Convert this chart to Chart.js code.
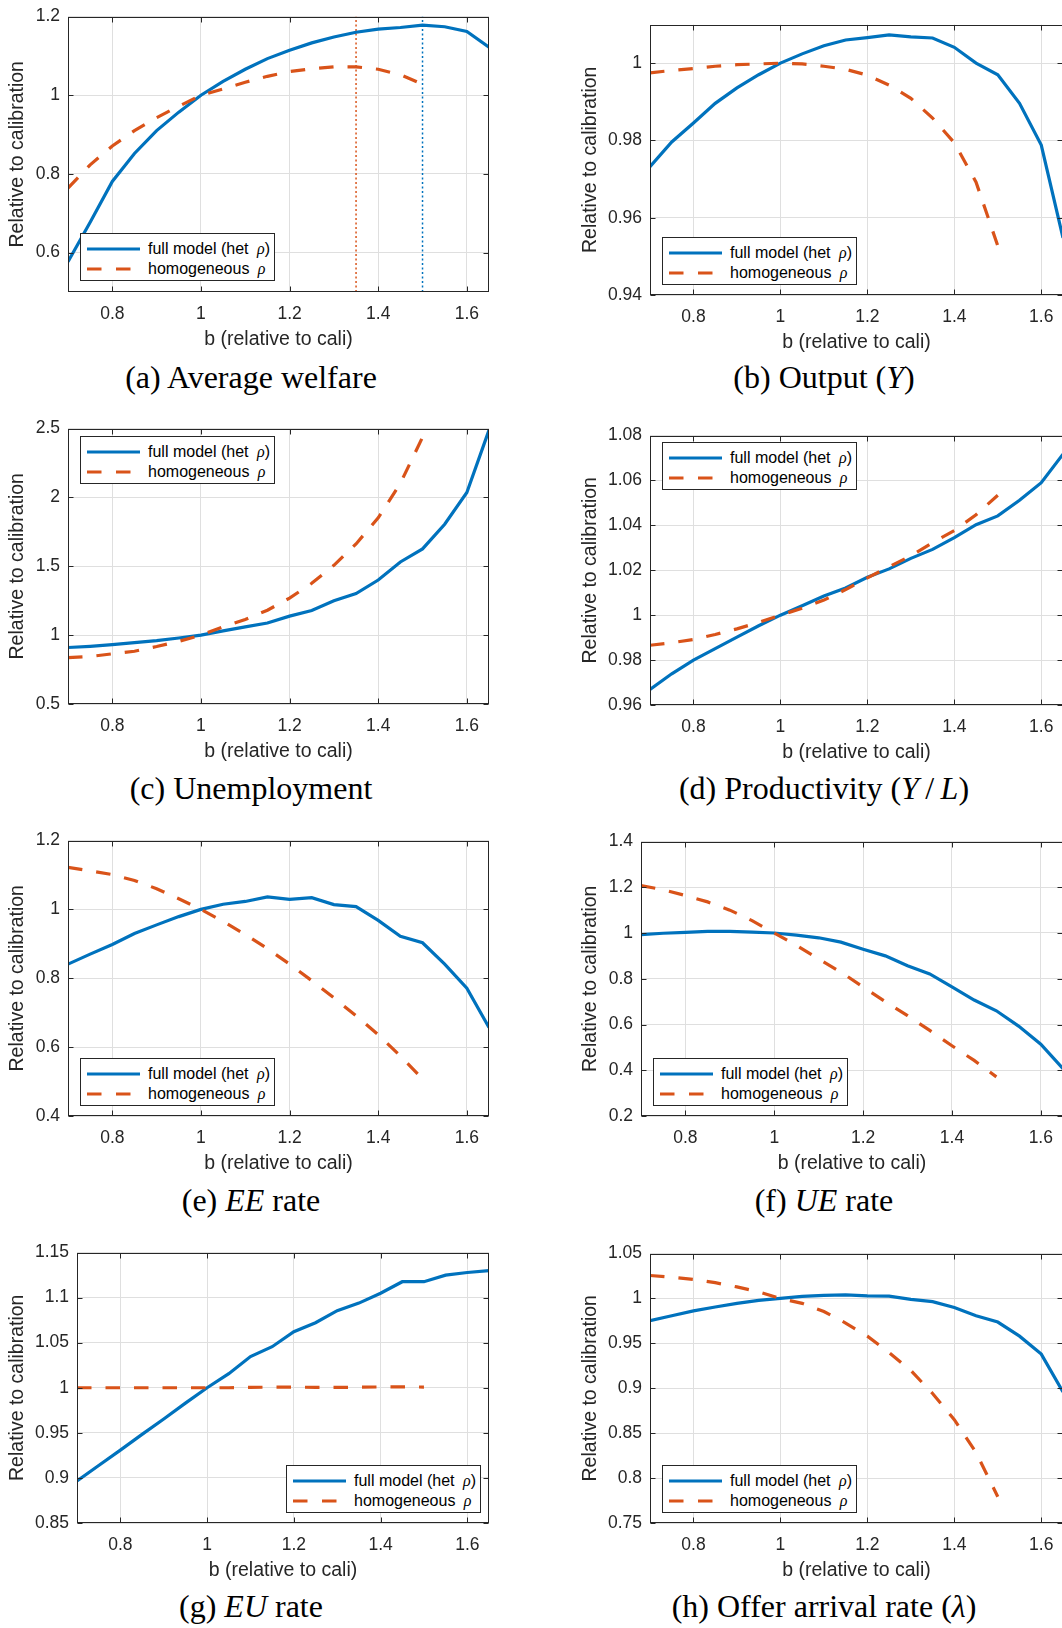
<!DOCTYPE html>
<html>
<head>
<meta charset="utf-8">
<script src="https://cdn.jsdelivr.net/npm/chart.js@4.4.0/dist/chart.umd.min.js"></script>
<style>
html, body { margin: 0; padding: 0; background: #fff; overflow: hidden; }
body { width: 1062px; height: 1628px; position: relative; }
canvas { position: absolute; }
.cap { position: absolute; width: 500px; text-align: center; font-family: "Liberation Serif", serif; font-size: 32px; line-height: 32px; color: #000; white-space: nowrap; }
.leg { position: absolute; width: 193px; height: 46px; border: 1px solid #262626; background: #fff; font-family: "Liberation Sans", Arial, sans-serif; font-size: 16px; color: #000; }
.leg .row { position: absolute; left: 67px; white-space: nowrap; line-height: 20px; }
.leg svg { position: absolute; left: 6px; }
.rho { font-family: "Liberation Serif", serif; font-style: italic; margin-left: 4px; }
</style>
</head>
<body>
<script>
// b grid (relative to calibration)
const bFull  = [0.7, 0.75, 0.8, 0.85, 0.9, 0.95, 1.0, 1.05, 1.1, 1.15, 1.2, 1.25, 1.3, 1.35, 1.4, 1.45, 1.5, 1.55, 1.6, 1.65];
const bHomog = [0.7, 0.75, 0.8, 0.85, 0.9, 0.95, 1.0, 1.05, 1.1, 1.15, 1.2, 1.25, 1.3, 1.35, 1.4, 1.45, 1.5];
const bTicks = [0.8, 1, 1.2, 1.4, 1.6];

// (a) average welfare
const welfareFull  = [0.577, 0.677, 0.781, 0.852, 0.910, 0.957, 1.000, 1.035, 1.066, 1.093, 1.114, 1.133, 1.148, 1.160, 1.168, 1.172, 1.178, 1.174, 1.162, 1.122];
const welfareHomog = [0.764, 0.823, 0.871, 0.910, 0.943, 0.972, 1.000, 1.016, 1.033, 1.048, 1.060, 1.067, 1.072, 1.072, 1.066, 1.052, 1.028];
const welfarePeaks = [1.35, 1.5]; // homogeneous, full model
const welfareTicks = [0.6, 0.8, 1, 1.2];

// (b) output
const outputFull  = [0.9732, 0.9796, 0.9845, 0.9896, 0.9936, 0.9970, 1.0, 1.0024, 1.0045, 1.0060, 1.0066, 1.0073, 1.0068, 1.0065, 1.0041, 1.0, 0.9970, 0.9896, 0.9788, 0.9548];
const outputHomog = [0.9975, 0.9981, 0.9986, 0.9992, 0.9996, 0.9998, 1.0, 0.9998, 0.9992, 0.9984, 0.9969, 0.9943, 0.9909, 0.9858, 0.9794, 0.9692, 0.9527];
const outputTicks = [0.94, 0.96, 0.98, 1];

// (c) unemployment
const unempFull  = [0.910, 0.919, 0.931, 0.945, 0.960, 0.979, 1.0, 1.031, 1.060, 1.088, 1.138, 1.179, 1.250, 1.302, 1.400, 1.531, 1.626, 1.805, 2.036, 2.488];
const unempHomog = [0.836, 0.845, 0.864, 0.883, 0.917, 0.955, 1.0, 1.060, 1.114, 1.181, 1.269, 1.376, 1.507, 1.662, 1.852, 2.102, 2.436];
const unempTicks = [0.5, 1, 1.5, 2, 2.5];

// (d) productivity
const prodFull  = [0.9669, 0.9739, 0.9800, 0.9851, 0.9902, 0.9953, 1.0, 1.0042, 1.0085, 1.0121, 1.0169, 1.0206, 1.0253, 1.0293, 1.0345, 1.0403, 1.0442, 1.0512, 1.0590, 1.0717];
const prodHomog = [0.9866, 0.9877, 0.9892, 0.9914, 0.9939, 0.9968, 1.0, 1.0031, 1.0067, 1.0114, 1.0166, 1.0216, 1.0264, 1.0323, 1.0377, 1.0447, 1.0534];
const prodTicks = [0.96, 0.98, 1, 1.02, 1.04, 1.06, 1.08];

// (e) EE rate
const eeFull  = [0.841, 0.870, 0.898, 0.930, 0.955, 0.979, 1.0, 1.015, 1.023, 1.036, 1.029, 1.034, 1.014, 1.008, 0.968, 0.922, 0.903, 0.841, 0.771, 0.657];
const eeHomog = [1.122, 1.112, 1.101, 1.084, 1.060, 1.031, 1.0, 0.965, 0.927, 0.886, 0.841, 0.793, 0.743, 0.691, 0.636, 0.574, 0.508];
const eeTicks = [0.4, 0.6, 0.8, 1, 1.2];

// (f) UE rate
const ueFull  = [0.993, 0.999, 1.003, 1.007, 1.007, 1.004, 1.0, 0.991, 0.979, 0.960, 0.929, 0.900, 0.857, 0.821, 0.764, 0.707, 0.660, 0.593, 0.514, 0.407];
const ueHomog = [1.207, 1.189, 1.164, 1.136, 1.100, 1.054, 1.0, 0.946, 0.886, 0.829, 0.764, 0.700, 0.639, 0.574, 0.507, 0.443, 0.371];
const ueTicks = [0.2, 0.4, 0.6, 0.8, 1, 1.2, 1.4];

// (g) EU rate
const euFull  = [0.8965, 0.9137, 0.9308, 0.9483, 0.9654, 0.9829, 1.0, 1.0156, 1.0346, 1.0455, 1.0622, 1.0721, 1.0855, 1.0939, 1.1048, 1.1176, 1.1176, 1.1249, 1.1278, 1.1300];
const euHomog = [1.0, 1.0, 1.0, 1.0, 1.0, 1.0, 1.0, 1.0, 1.0005, 1.0006, 1.0006, 1.0005, 1.0004, 1.0006, 1.0009, 1.0010, 1.0008];
const euTicks = [0.85, 0.9, 0.95, 1, 1.05, 1.1, 1.15];

// (h) offer arrival rate
const offerFull  = [0.9752, 0.9807, 0.9861, 0.9905, 0.9945, 0.9978, 1.0, 1.0022, 1.0033, 1.0040, 1.0029, 1.0026, 0.9989, 0.9964, 0.9898, 0.9807, 0.9737, 0.9580, 0.9380, 0.8960];
const offerHomog = [1.0255, 1.0237, 1.0212, 1.0175, 1.0128, 1.0073, 1.0, 0.9945, 0.9854, 0.9726, 0.9580, 0.9398, 0.9197, 0.8942, 0.8650, 0.8285, 0.7792];
const offerTicks = [0.75, 0.8, 0.85, 0.9, 0.95, 1, 1.05];

const BLUE = '#0072BD', ORANGE = '#D95319', INK = '#262626', GRID = '#dfdfdf';
const SANS = '"Liberation Sans", Arial, sans-serif';

const panels = [
  {full: welfareFull, homog: welfareHomog, yMin: 0.5, yMax: 1.2, yTicks: welfareTicks, peaks: welfarePeaks,
   cx: 0, L: 68, T: 12, R: 489, B: 292, leg: [80, 233], cap: '(a) Average welfare', capX: 251, capY: 388},
  {full: outputFull, homog: outputHomog, yMin: 0.94, yMax: 1.01, yTicks: outputTicks,
   cx: 573, L: 650, T: 20, R: 1063, B: 295, leg: [662, 237], cap: '(b) Output (<i>Y</i>)', capX: 824, capY: 388},
  {full: unempFull, homog: unempHomog, yMin: 0.5, yMax: 2.5, yTicks: unempTicks,
   cx: 0, L: 68, T: 424, R: 489, B: 704, leg: [80, 436], cap: '(c) Unemployment', capX: 251, capY: 799},
  {full: prodFull, homog: prodHomog, yMin: 0.96, yMax: 1.08, yTicks: prodTicks,
   cx: 573, L: 650, T: 431, R: 1063, B: 705, leg: [662, 442], cap: '(d) Productivity (<i>Y</i>&thinsp;/&thinsp;<i>L</i>)', capX: 824, capY: 799},
  {full: eeFull, homog: eeHomog, yMin: 0.4, yMax: 1.2, yTicks: eeTicks,
   cx: 0, L: 68, T: 836, R: 489, B: 1116, leg: [80, 1058], cap: '(e) <i>EE</i> rate', capX: 251, capY: 1211},
  {full: ueFull, homog: ueHomog, yMin: 0.2, yMax: 1.4, yTicks: ueTicks,
   cx: 573, L: 641, T: 837, R: 1063, B: 1116, leg: [653, 1058], cap: '(f) <i>UE</i> rate', capX: 824, capY: 1211},
  {full: euFull, homog: euHomog, yMin: 0.85, yMax: 1.15, yTicks: euTicks,
   cx: 0, L: 77, T: 1248, R: 489, B: 1523, leg: [286, 1465], cap: '(g) <i>EU</i> rate', capX: 251, capY: 1617},
  {full: offerFull, homog: offerHomog, yMin: 0.75, yMax: 1.05, yTicks: offerTicks,
   cx: 573, L: 650, T: 1249, R: 1063, B: 1523, leg: [662, 1465], cap: '(h) Offer arrival rate (<i>λ</i>)', capX: 824, capY: 1617}
];

function pairs(xs, ys) {
  return ys.map((y, i) => ({x: xs[i], y: y}));
}

// matlab style box with inward tick marks
const boxPlugin = {
  id: 'box',
  afterDatasetsDraw(chart) {
    const {ctx, chartArea: a, scales: {x, y}} = chart;
    const l = Math.round(a.left) + 0.5, r = Math.round(a.right) - 0.5;
    const t = Math.round(a.top) + 0.5, b = Math.round(a.bottom) - 0.5;
    ctx.save();
    ctx.strokeStyle = INK;
    ctx.lineWidth = 1;
    ctx.strokeRect(l, t, r - l, b - t);
    ctx.beginPath();
    x.ticks.forEach(tk => {
      const px = Math.round(x.getPixelForValue(tk.value)) + 0.5;
      ctx.moveTo(px, b); ctx.lineTo(px, b - 5);
      ctx.moveTo(px, t); ctx.lineTo(px, t + 5);
    });
    y.ticks.forEach(tk => {
      const py = Math.round(y.getPixelForValue(tk.value)) + 0.5;
      ctx.moveTo(l, py); ctx.lineTo(l + 5, py);
      ctx.moveTo(r, py); ctx.lineTo(r - 5, py);
    });
    ctx.stroke();
    ctx.restore();
  }
};

const PT = 14, XH = 59, W = 500;

panels.forEach(p => {
  const cv = document.createElement('canvas');
  cv.width = W;
  cv.height = PT + (p.B - p.T) + XH;
  cv.style.left = p.cx + 'px';
  cv.style.top = (p.T - PT) + 'px';
  document.body.appendChild(cv);

  let datasets = [
    {data: pairs(bHomog, p.homog), borderColor: ORANGE, borderWidth: 3.2, borderDash: [14.5, 14], order: 0},
    {data: pairs(bFull, p.full), borderColor: BLUE, borderWidth: 3.2, order: 1}
  ];
  if (p.peaks) {
    const cols = [ORANGE, BLUE];
    p.peaks.forEach((pk, i) => {
      datasets.push({data: [{x: pk, y: p.yMin}, {x: pk, y: p.yMax}], borderColor: cols[i],
                     borderWidth: 1.5, borderDash: [2, 2.5], order: 2});
    });
  }

  new Chart(cv, {
    type: 'line',
    data: {datasets: datasets},
    options: {
      responsive: false,
      animation: false,
      devicePixelRatio: 1,
      layout: {padding: {top: PT, left: 0, bottom: 0, right: p.cx + W - p.R}},
      plugins: {legend: {display: false}, tooltip: {enabled: false}},
      elements: {point: {radius: 0}, line: {tension: 0, fill: false}},
      scales: {
        x: {
          type: 'linear', min: 0.7, max: 1.65,
          afterBuildTicks: s => { s.ticks = bTicks.map(v => ({value: v})); },
          afterFit: s => { s.height = XH; },
          grid: {color: GRID, drawTicks: false},
          border: {display: false},
          ticks: {padding: 12, color: INK, font: {family: SANS, size: 17.5}, maxRotation: 0, autoSkip: false,
                  callback: v => String(v)},
          title: {display: true, text: 'b (relative to cali)', color: INK, font: {family: SANS, size: 19.5}, padding: 0}
        },
        y: {
          type: 'linear', min: p.yMin, max: p.yMax,
          afterBuildTicks: s => { s.ticks = p.yTicks.map(v => ({value: v})); },
          afterFit: s => { s.width = p.L - p.cx; },
          grid: {color: GRID, drawTicks: false},
          border: {display: false},
          ticks: {padding: 8, color: INK, font: {family: SANS, size: 17.5}, autoSkip: false,
                  callback: v => String(v)},
          title: {display: true, text: 'Relative to calibration', color: INK, font: {family: SANS, size: 19.5},
                  padding: {top: 6, bottom: 0}}
        }
      }
    },
    plugins: [boxPlugin]
  });

  const lg = document.createElement('div');
  lg.className = 'leg';
  lg.style.left = p.leg[0] + 'px';
  lg.style.top = p.leg[1] + 'px';
  lg.innerHTML =
    '<svg style="top:12px" width="54" height="6"><line x1="0" y1="3" x2="53" y2="3" stroke="' + BLUE + '" stroke-width="3.2"/></svg>' +
    '<div class="row" style="top:5px">full model (het <span class="rho">ρ</span>)</div>' +
    '<svg style="top:32px" width="54" height="6"><line x1="0" y1="3" x2="53" y2="3" stroke="' + ORANGE + '" stroke-width="3.2" stroke-dasharray="14.5 14.5"/></svg>' +
    '<div class="row" style="top:25px">homogeneous <span class="rho">ρ</span></div>';
  document.body.appendChild(lg);

  const cap = document.createElement('div');
  cap.className = 'cap';
  cap.innerHTML = p.cap;
  cap.style.left = (p.capX - 250) + 'px';
  cap.style.top = (p.capY - 27) + 'px';
  document.body.appendChild(cap);
});
</script>
</body>
</html>
